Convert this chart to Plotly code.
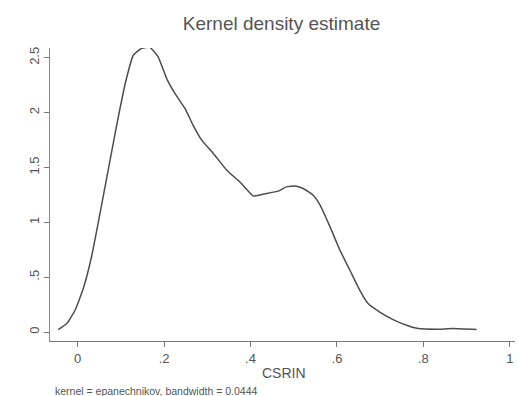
import plotly.graph_objects as go

# Kernel density estimate of CSRIN
csrin = [-0.045, -0.025, -0.006, 0.013, 0.032, 0.056, 0.075, 0.094, 0.112, 0.129,
         0.148, 0.167, 0.186, 0.206, 0.225, 0.248, 0.267, 0.287, 0.314, 0.345,
         0.375, 0.406, 0.437, 0.464, 0.483, 0.503, 0.522, 0.545, 0.561, 0.584,
         0.607, 0.630, 0.653, 0.672, 0.699, 0.730, 0.761, 0.788, 0.830, 0.869, 0.923]
density = [0.022, 0.077, 0.198, 0.396, 0.684, 1.17, 1.567, 1.96, 2.297, 2.525,
           2.586, 2.595, 2.51, 2.31, 2.175, 2.04, 1.886, 1.749, 1.628, 1.475,
           1.369, 1.241, 1.263, 1.284, 1.323, 1.332, 1.308, 1.247, 1.156, 0.958,
           0.745, 0.563, 0.380, 0.259, 0.182, 0.113, 0.061, 0.031, 0.025, 0.031, 0.022]

x_tickvals = [0, 0.2, 0.4, 0.6, 0.8, 1]
x_ticktext = ["0", ".2", ".4", ".6", ".8", "1"]
y_tickvals = [0, 0.5, 1, 1.5, 2, 2.5]
y_ticktext = ["0", ".5", "1", "1.5", "2", "2.5"]

title_text = "Kernel density estimate"
xlabel = "CSRIN"
note = "kernel = epanechnikov, bandwidth = 0.0444"

W, H = 518, 396
ml, mr, mt, mb = 50, 3, 48, 55
ph = H - mt - mb

fig = go.Figure()
fig.add_trace(go.Scatter(x=csrin, y=density, mode="lines", cliponaxis=False,
                         line=dict(color="#4d4d4d", width=1.5, shape="spline", smoothing=0.4),
                         showlegend=False, hoverinfo="skip"))

gray = "#555555"
fig.update_layout(
    width=W, height=H,
    margin=dict(l=ml, r=mr, t=mt, b=mb),
    paper_bgcolor="white", plot_bgcolor="white",
    font=dict(family="Liberation Sans, Arial, sans-serif", color=gray, size=13),
    title=dict(text=title_text, x=281.5 / W, xanchor="center", xref="container",
               y=1 - 23 / H, yanchor="middle", yref="container",
               font=dict(size=19, color=gray)),
    xaxis=dict(range=[-0.064, 1.012], tickvals=x_tickvals, ticktext=x_ticktext,
               showgrid=False, zeroline=False, showline=True, linecolor="#777777",
               linewidth=1, ticks="outside", ticklen=5, tickcolor="#777777",
               tickfont=dict(size=13, color=gray)),
    yaxis=dict(range=[-0.082, 2.589], tickvals=y_tickvals, ticktext=y_ticktext,
               showgrid=False, zeroline=False, showline=True, linecolor="#9a7aa0",
               linewidth=1, ticks="outside", ticklen=5, tickcolor="#777777",
               tickangle=-90, tickfont=dict(size=13, color=gray)),
    annotations=[
        dict(text=xlabel, xref="paper", yref="paper",
             x=(284 - ml) / (W - ml - mr), y=(mt + ph - 373) / ph,
             xanchor="center", yanchor="middle", showarrow=False,
             font=dict(size=14, color=gray)),
        dict(text=note, xref="paper", yref="paper",
             x=(53 - ml) / (W - ml - mr), y=(mt + ph - 390.5) / ph,
             xanchor="left", yanchor="middle", showarrow=False,
             font=dict(size=10.5, color=gray)),
    ],
)
fig.write_html("out.html")
